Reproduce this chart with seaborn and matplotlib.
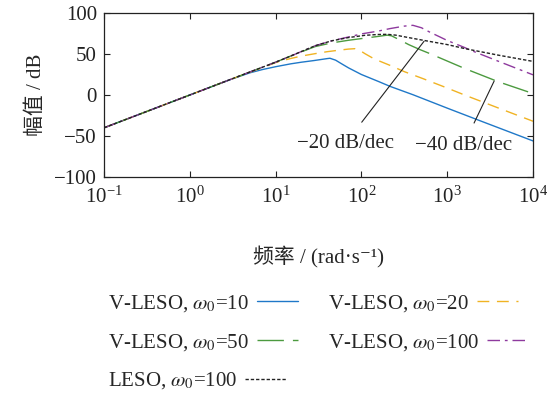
import matplotlib
matplotlib.use("Agg")
import matplotlib.pyplot as plt
import seaborn as sns

# ---- magnitude data (rad/s, dB) ----
freq_w10 = [0.1, 1, 3, 5, 7, 10, 15, 20, 28, 35, 40, 43, 50, 60, 71, 100, 158, 216, 400, 1000, 2500, 10000]
mag_w10 = [-40, 0, 19, 27, 31, 34.5, 38, 40, 42, 43.5, 44.4, 44.8, 42.5, 37.5, 33, 25, 16.5, 10.5, 0.3, -16, -32, -56]

freq_w20 = [0.1, 1, 3.16, 7.94, 10, 14.7, 20, 28.8, 39.8, 56.2, 70.8, 84.3, 95.5, 110, 141, 216, 316, 527, 1000, 1620, 3980, 10000]
mag_w20 = [-40, 0, 20, 35.5, 39.5, 44.3, 47.5, 50.4, 52.8, 54.8, 56, 56.5, 54.5, 50.4, 44, 36.1, 28.5, 19.8, 8.5, -0.3, -16, -32]

freq_w50 = [0.1, 1, 3.16, 10, 15.8, 28.8, 44.7, 70.3, 100, 158, 200, 224, 282, 355, 483, 631, 1236, 1618, 3981, 10000]
mag_w50 = [-40, 0, 20, 40, 48.5, 59, 63.5, 66.7, 68.8, 71.5, 73, 72.2, 67, 61.5, 55.3, 50.4, 37.3, 32.1, 16, 1.8]

freq_w100 = [0.1, 1, 3.16, 10, 15.8, 28.8, 44.7, 70.3, 100, 158, 216, 316, 398, 501, 631, 826, 1000, 1545, 2113, 3981, 10000]
mag_w100 = [-40, 0, 20, 40, 48.5, 60, 66, 70.7, 74.5, 78, 81, 84, 85, 82, 76.5, 70.7, 66.5, 58.5, 52.4, 41, 24.6]

freq_leso = [0.1, 1, 3.16, 10, 15.8, 28.8, 44.7, 70.3, 110, 158, 200, 251, 316, 527, 1000, 1618, 3981, 10000]
mag_leso = [-40, 0, 20, 40, 48.5, 60, 66, 70, 72.8, 73.8, 74, 73, 71, 66.7, 61.5, 56.5, 48.5, 41]

labels = [r"V-LESO, $\omega_0$=10", r"V-LESO, $\omega_0$=20", r"V-LESO, $\omega_0$=50",
          r"V-LESO, $\omega_0$=100", r"LESO, $\omega_0$=100"]
y_ticks = [-100, -50, 0, 50, 100]

sns.set_style("ticks")
plt.rcParams["font.family"] = ["Liberation Serif", "Noto Sans CJK SC", "DejaVu Serif"]
plt.rcParams["mathtext.fontset"] = "stix"
plt.rcParams["axes.unicode_minus"] = True
plt.rcParams["font.size"] = 15

fig = plt.figure(figsize=(5.56, 3.96), dpi=100)
ax = fig.add_axes([104 / 556, 1 - 177 / 396, (533 - 104) / 556, (177 - 13) / 396])

styles = [
    dict(color="#1f78c8", linestyle="-"),
    dict(color="#f0b323", linestyle=(0, (8.5, 5.5))),
    dict(color="#4c9a3f", linestyle=(0, (19, 6.5))),
    dict(color="#8e3a9e", linestyle=(0, (9, 3.5, 2, 3.5))),
    dict(color="#222222", linestyle=(0, (2.4, 1.4))),
]
series = [(freq_w10, mag_w10), (freq_w20, mag_w20), (freq_w50, mag_w50),
          (freq_w100, mag_w100), (freq_leso, mag_leso)]

for (f, m), st, lab in zip(series, styles, labels):
    sns.lineplot(x=f, y=m, ax=ax, lw=1.0, label=lab, estimator=None, sort=False, **st)

ax.set_xscale("log")
ax.set_xlim(0.1, 1e4)
ax.set_ylim(-100, 100)
ax.set_yticks(y_ticks)
ax.xaxis.set_minor_locator(matplotlib.ticker.NullLocator())
ax.tick_params(axis="both", which="major", direction="in", length=4.5, width=0.8,
               top=True, right=True, labelsize=15, colors="#222222")
ax.tick_params(axis="x", pad=7)
ax.tick_params(axis="y", pad=5)
for sp in ax.spines.values():
    sp.set_linewidth(0.9)
    sp.set_color("#222222")

ax.set_ylabel("幅值 / dB", fontsize=15, labelpad=6)
ax.set_xlabel("频率 / (rad·s⁻¹)", fontsize=15, labelpad=28)

# slope annotations
ax.annotate("−20 dB/dec", xy=(537, 65.5), xytext=(64.6, -59.5),
            ha="center", va="center", fontsize=15,
            arrowprops=dict(arrowstyle="-", color="#222222", lw=0.8, shrinkA=8, shrinkB=0))
ax.annotate("−40 dB/dec", xy=(3524, 17), xytext=(1535, -62),
            ha="center", va="center", fontsize=15,
            arrowprops=dict(arrowstyle="-", color="#222222", lw=0.8, shrinkA=8, shrinkB=0))

handles, labs = ax.get_legend_handles_labels()
ax.get_legend().remove()
order = [0, 2, 4, 1, 3]
leg = fig.legend([handles[i] for i in order], [labs[i] for i in order],
                 ncol=2, markerfirst=False, frameon=False, fontsize=15,
                 loc="upper left", bbox_to_anchor=(100 / 556, 1 - 285 / 396),
                 handlelength=2.0, handletextpad=0.35, columnspacing=1.45,
                 labelspacing=0.85, borderaxespad=0)
for col in leg._legend_handle_box.get_children():
    col.align = "left"

fig.savefig("out.png", dpi=100)
